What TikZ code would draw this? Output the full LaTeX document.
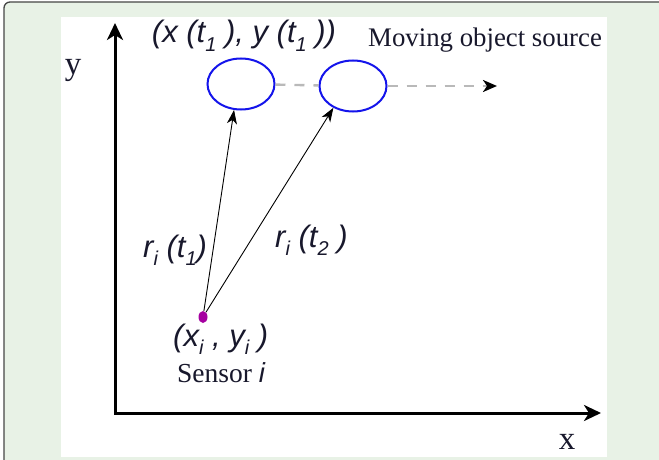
\documentclass[tikz,border=0pt]{standalone}
\usepackage{fontspec}
\setmainfont{Liberation Serif}
\setsansfont{Liberation Sans}
\usetikzlibrary{arrows.meta, shapes.geometric}

\definecolor{panelgreen}{RGB}{232,242,230}
\definecolor{framegray}{RGB}{70,70,70}
\definecolor{labelink}{RGB}{24,24,44}
\definecolor{orbitblue}{RGB}{20,20,235}
\definecolor{sensormag}{RGB}{165,0,160}

% lowered subscript as printed in the figure
\newcommand{\lo}[1]{\raisebox{-0.5ex}{\fontsize{20}{20}\selectfont #1}}

\tikzset{
    axis/.style={line width=3pt, {Stealth[length=17pt, width=16pt, inset=5pt]}-{Stealth[length=17pt, width=16pt, inset=5pt]}},
    ray/.style={line width=0.9pt, -{Stealth[length=14pt, width=10pt, inset=4pt]}},
    drift/.style={line width=2.4pt, gray!55, dash pattern=on 10pt off 9pt},
    source/.style={ellipse, draw=orbitblue, line width=2pt, minimum width=67pt, minimum height=51pt, inner sep=0pt},
    sanslabel/.style={font=\sffamily\itshape\fontsize{31}{31}\selectfont, text=labelink, inner sep=0pt},
    seriflabel/.style={font=\fontsize{27.5}{27.5}\selectfont, text=labelink, inner sep=0pt}
}

\begin{document}
\begin{tikzpicture}[x=1pt, y=-1pt]
    \useasboundingbox (0,0) rectangle (659,460);
    \clip (0,0) rectangle (659,460);

    % --- Frame and white panel ---
    \draw[framegray, line width=1.3pt, fill=panelgreen, rounded corners=6pt] (4,2) rectangle (680,480);
    \fill[white] (61,17) rectangle (607,457);

    % --- Axes ---
    \coordinate (ytip) at (115,23);
    \coordinate (origin) at (115,413);
    \coordinate (xtip) at (601,413);
    \draw[axis] (ytip) -- (origin) -- (xtip);
    \node[seriflabel, font=\fontsize{33}{33}\selectfont] (ylabel) at (73,70) {y};
    \node[seriflabel, font=\fontsize{33}{33}\selectfont] (xlabel) at (567,442) {x};

    % --- Moving source at two instants ---
    \node[source] (src1) at (241,84) {};
    \node[source] (src2) at (353,86) {};
    \coordinate (driftend) at (497,86);
    \draw[drift] (src1) -- (src2);
    \draw[drift, -{Stealth[length=14pt, width=12pt, inset=4pt, color=black]}] (src2) -- (driftend);

    \node[sanslabel, anchor=base] (srcpos) at (244,43) {(x (t\lo{1} ), y (t\lo{1} ))};
    \node[seriflabel, font=\fontsize{26.8}{26.8}\selectfont, anchor=base west] (srcname) at (368,47) {Moving object source};

    % --- Sensor and ranges ---
    \node[ellipse, fill=sensormag, minimum width=9pt, minimum height=12pt, inner sep=0pt] (sensor) at (203,317) {};
    \draw[ray] (sensor) -- (src1.255);
    \draw[ray] (sensor) -- (src2.228);

    \node[sanslabel, anchor=base west] (range1) at (143,257) {r\lo{i} (t\lo{1})};
    \node[sanslabel, anchor=base west] (range2) at (275,247) {r\lo{i} (t\lo{2} )};
    \node[sanslabel, anchor=base west] (sensorpos) at (173,346) {(x\lo{i} , y\lo{i} )};
    \node[seriflabel, anchor=base west] (sensorname) at (177,382) {Sensor \textsf{\textit{i}}};

\end{tikzpicture}
\end{document}
